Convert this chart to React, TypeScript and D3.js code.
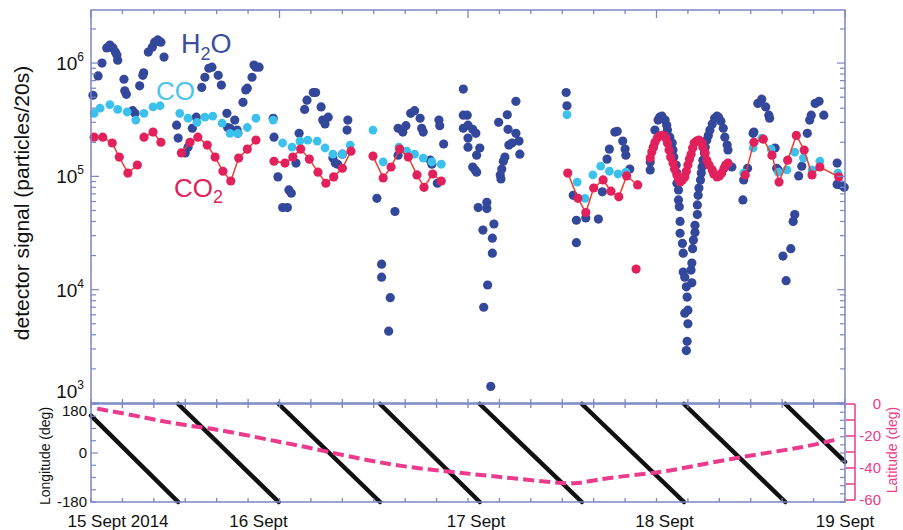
import React from 'react';
import * as d3 from 'd3';

// time is in hours since 15 Sept 2014 00:00, signal in particles/20s
const dayLabels = ['15 Sept 2014', '16 Sept', '17 Sept', '18 Sept', '19 Sept'];
const dayHours = [0, 24, 48, 72, 96];
const decades = [1e3, 1e4, 1e5, 1e6];
const lonLabels = [180, 0, -180];
const latLabels = [0, -20, -40, -60];

const h2o: [number, number][] = [
  [0.25, 5.2e5], [0.9, 7.7e5], [1.4, 1.0e6], [2.0, 1.36e6], [2.4, 1.44e6], [2.8, 1.36e6], [3.1, 1.25e6],
  [3.3, 1.18e6], [3.4, 1.06e6], [4.2, 7.2e5], [4.3, 5.7e5], [4.5, 5.3e5], [5.3, 3.8e5], [5.6, 3.6e5],
  [6.2, 6.3e5], [6.6, 7.8e5], [6.7, 8.2e5], [7.3, 1.25e6], [7.8, 1.38e6], [8.1, 1.53e6], [8.5, 1.6e6],
  [8.9, 1.53e6], [9.3, 1.13e6], [10.9, 2.83e5], [11.1, 2.18e5], [12.0, 1.61e5], [12.35, 1.81e5],
  [12.9, 2.66e5], [13.4, 3.33e5], [14.1, 6.1e5], [14.5, 7.5e5], [15.0, 9.0e5], [15.4, 9.2e5],
  [16.2, 7.8e5], [16.6, 6.4e5], [17.3, 3.6e5], [17.4, 2.7e5], [17.7, 2.66e5], [18.3, 3.14e5],
  [18.6, 2.56e5], [18.7, 2.4e5], [19.35, 4.5e5], [19.7, 5.8e5], [19.9, 6.0e5], [20.5, 7.5e5],
  [20.75, 9.6e5], [21.0, 9.2e5], [21.4, 9.2e5], [23.2, 3.26e5], [23.3, 2.22e5], [23.8, 9.9e4],
  [24.4, 5.3e4], [25.0, 5.3e4], [25.2, 7.6e4], [25.5, 7.1e4], [26.1, 1.31e5], [26.5, 2.4e5],
  [27.2, 3.9e5], [27.5, 4.7e5], [28.3, 5.5e5], [28.6, 5.5e5], [29.3, 4.1e5], [29.5, 3.14e5],
  [29.8, 2.9e5], [30.2, 3.33e5], [30.8, 1.45e5], [31.1, 1.31e5], [31.4, 1.28e5], [32.0, 1.57e5],
  [32.6, 2.56e5], [32.7, 3.14e5], [36.4, 6.4e4], [37.0, 1.68e4], [37.0, 1.29e4], [37.9, 4.3e3],
  [38.1, 8.5e3], [38.7, 4.9e4], [39.1, 2.66e5], [39.1, 1.54e5], [39.7, 2.46e5], [40.1, 2.8e5],
  [40.7, 3.6e5], [41.2, 3.8e5], [41.9, 3.26e5], [42.1, 2.66e5], [42.3, 2.46e5], [43.2, 1.39e5],
  [43.4, 1.28e5], [44.1, 8.7e4], [44.3, 3.14e5], [44.4, 2.8e5], [44.9, 1.93e5],
  [47.4, 5.9e5], [47.4, 3.47e5], [47.9, 3.47e5], [47.4, 2.66e5], [48.0, 2.83e5], [48.6, 2.6e5],
  [49.0, 2.4e5], [48.0, 2.18e5], [48.0, 1.81e5], [49.5, 1.78e5], [49.1, 1.54e5], [48.6, 1.21e5],
  [48.9, 1.14e5], [49.1, 1.09e5], [49.3, 5.3e4], [50.4, 5.9e4], [50.4, 5.2e4], [49.9, 3.36e4],
  [51.3, 3.8e4], [51.1, 2.85e4], [51.1, 2.1e4], [50.5, 1.1e4], [50.0, 7.0e3], [50.9, 1.4e3],
  [51.9, 3.0e5], [53.0, 3.5e5], [54.1, 4.6e5], [53.1, 2.6e5], [54.1, 2.4e5], [54.5, 2.05e5],
  [53.6, 1.97e5], [53.2, 1.89e5], [54.6, 1.57e5], [52.7, 1.48e5], [52.5, 1.36e5], [52.3, 1.16e5],
  [52.1, 1.03e5], [52.2, 9.5e4], [60.5, 5.5e5], [60.6, 4.2e5], [61.4, 6.8e4], [61.8, 4.1e4],
  [61.8, 2.6e4], [63.0, 4.3e4], [64.6, 4.2e4], [65.1, 7.3e4], [65.7, 1.42e5], [66.0, 1.74e5],
  [66.7, 2.46e5], [67.0, 2.5e5], [67.7, 2.05e5], [68.0, 1.74e5], [68.1, 1.54e5], [68.6, 1.16e5],
  [71.2, 1.14e5], [71.2, 1.34e5], [71.6, 1.81e5], [71.8, 2.56e5], [72.2, 3.14e5], [72.4, 3.33e5],
  [72.7, 3.4e5], [73.1, 3.14e5], [73.3, 2.83e5], [73.4, 2.56e5], [73.7, 2.22e5], [74.0, 1.97e5],
  [74.1, 1.71e5], [74.2, 1.48e5], [74.5, 1.26e5], [74.6, 1.07e5], [74.6, 8.7e4], [74.8, 7.6e4],
  [74.8, 6.2e4], [74.9, 5.4e4], [75.0, 4.0e4], [75.0, 3.15e4], [75.3, 2.56e4], [75.4, 2.1e4],
  [75.4, 1.43e4], [75.6, 1.29e4], [75.8, 1.06e4], [75.9, 8.6e3], [76.0, 6.6e3], [75.6, 6.2e3],
  [76.0, 5.0e3], [75.9, 3.5e3], [75.8, 2.9e3], [76.5, 1.15e4], [76.4, 1.49e4], [76.5, 1.72e4],
  [76.6, 2.3e4], [76.7, 2.74e4], [76.9, 3.2e4], [76.9, 3.7e4], [77.2, 4.6e4], [77.2, 5.6e4],
  [77.3, 6.8e4], [77.4, 7.9e4], [77.6, 9.3e4], [77.7, 1.07e5], [77.8, 1.21e5], [77.9, 1.39e5],
  [78.1, 1.61e5], [78.2, 1.81e5], [78.4, 2.09e5], [78.6, 2.3e5], [78.8, 2.56e5], [79.1, 2.9e5],
  [79.4, 3.26e5], [79.7, 3.4e5], [79.9, 3.33e5], [80.2, 3.07e5], [80.5, 2.66e5], [80.7, 2.22e5],
  [81.0, 1.89e5], [81.1, 1.71e5], [81.6, 1.21e5], [83.0, 6.2e4], [83.1, 9.3e4], [83.6, 1.18e5],
  [84.3, 2.4e5], [84.4, 2.46e5], [84.9, 4.4e5], [85.4, 4.8e5], [85.9, 4.1e5], [86.3, 3.47e5],
  [86.4, 3.26e5], [87.1, 1.78e5], [87.3, 1.18e5], [87.5, 1.14e5], [88.1, 1.98e4], [88.5, 1.2e4],
  [89.1, 2.3e4], [89.4, 4.0e4], [89.6, 4.6e4], [90.1, 1.01e5], [90.5, 1.23e5], [91.2, 2.4e5],
  [91.5, 3.14e5], [91.7, 3.47e5], [92.2, 4.4e5], [92.7, 4.6e5], [93.3, 3.47e5], [95.0, 1.31e5],
  [95.0, 8.5e4], [95.5, 8.4e4], [95.9, 8.0e4],
];

const co: [number, number][] = [
  [0.4, 3.6e5], [1.15, 4.0e5], [2.4, 4.3e5], [3.4, 3.9e5], [4.6, 3.7e5], [5.7, 3.14e5], [6.75, 3.6e5],
  [7.9, 4.1e5], [8.8, 4.2e5], [11.3, 3.6e5], [12.35, 3.26e5], [13.5, 3.0e5], [14.5, 3.33e5],
  [15.5, 3.4e5], [16.7, 2.95e5], [17.7, 2.4e5], [18.7, 2.4e5], [19.9, 2.7e5], [21.0, 3.26e5],
  [23.2, 3.14e5], [24.4, 1.97e5], [25.6, 1.81e5], [26.6, 2.05e5], [27.6, 2.09e5], [28.8, 2.05e5],
  [29.8, 1.78e5], [30.8, 1.57e5], [32.0, 1.57e5], [33.0, 1.89e5], [35.9, 2.56e5], [37.2, 1.34e5],
  [39.2, 1.81e5], [40.2, 1.67e5], [41.2, 1.57e5], [42.3, 1.45e5], [43.4, 1.34e5], [44.6, 1.28e5],
  [60.6, 3.5e5], [61.9, 8.9e4], [62.9, 6.4e4], [63.9, 1.03e5], [64.9, 1.23e5], [66.0, 1.11e5],
  [67.1, 1.05e5], [68.1, 1.09e5], [81.1, 1.31e5], [83.1, 1.07e5], [84.3, 1.78e5], [85.4, 2.18e5],
  [86.6, 1.74e5], [87.5, 1.09e5], [88.6, 1.14e5], [89.6, 1.64e5], [90.7, 1.45e5], [91.8, 1.14e5],
  [92.8, 1.36e5], [95.1, 1.07e5],
];

// CO2 runs, each run joined by a line
const co2Runs: [number, number][][] = [
  [[0.4, 2.22e5], [1.5, 2.22e5], [2.7, 1.97e5], [3.6, 1.48e5], [4.7, 1.07e5], [5.9, 1.26e5]],
  [[6.75, 2.22e5], [7.9, 2.46e5], [8.9, 2.0e5]],
  [[11.5, 1.61e5], [12.6, 2.0e5], [13.6, 2.22e5], [14.8, 1.89e5], [15.8, 1.48e5], [16.8, 1.11e5],
    [17.8, 9.1e4], [18.8, 1.45e5], [19.9, 1.74e5], [21.0, 2.09e5]],
  [[23.3, 1.36e5], [24.7, 1.31e5], [25.7, 1.48e5], [26.7, 1.74e5], [27.8, 1.42e5], [28.9, 1.09e5],
    [29.9, 8.7e4], [30.9, 9.9e4], [32.0, 1.18e5], [33.1, 1.67e5]],
  [[35.9, 1.51e5], [37.2, 9.7e4], [38.2, 1.21e5], [39.3, 1.74e5], [40.4, 1.48e5], [41.5, 1.03e5],
    [42.4, 8.0e4], [43.5, 1.05e5], [44.6, 9.1e4]],
  [[60.7, 1.07e5], [62.0, 6.4e4], [63.0, 4.8e4], [64.0, 7.9e4], [65.2, 9.3e4], [66.2, 7.4e4],
    [67.2, 6.6e4], [68.2, 1.01e5], [69.6, 8.4e4]],
  [[69.4, 1.52e4]],
  [[71.2, 1.45e5], [71.4, 1.64e5], [71.6, 1.81e5], [71.8, 2.0e5], [72.1, 2.18e5], [72.4, 2.27e5],
    [72.7, 2.3e5], [73.0, 2.27e5], [73.2, 2.18e5], [73.4, 1.97e5], [73.6, 1.71e5], [73.8, 1.48e5],
    [74.1, 1.31e5], [74.3, 1.16e5], [74.6, 1.03e5], [74.8, 9.5e4], [75.0, 8.9e4], [75.3, 9.3e4],
    [75.6, 9.9e4], [75.8, 1.11e5], [76.0, 1.26e5], [76.2, 1.42e5], [76.4, 1.57e5], [76.6, 1.78e5],
    [76.8, 1.97e5], [77.1, 2.05e5], [77.4, 2.09e5], [77.8, 1.97e5], [77.9, 1.81e5], [78.2, 1.61e5],
    [78.4, 1.39e5], [78.7, 1.26e5], [79.1, 1.14e5], [79.3, 1.05e5], [79.7, 9.9e4], [80.0, 1.01e5],
    [80.3, 1.07e5], [80.6, 1.18e5], [80.8, 1.26e5], [81.1, 1.31e5]],
  [[83.3, 1.03e5], [84.4, 2.0e5], [85.6, 2.13e5], [86.7, 1.54e5], [87.6, 8.9e4], [88.7, 1.39e5],
    [89.8, 2.3e5], [90.8, 1.71e5], [91.8, 1.03e5], [92.8, 1.21e5], [95.2, 9.9e4]],
];

// sub-spacecraft longitude: hours at which it wraps from -180 to 180
const lonWraps = [11.1, 23.9, 36.8, 49.5, 62.5, 75.5, 88.4];
const lonFirst = 137;
const lonLast = -33;

// sub-spacecraft latitude [hours, deg]
const latitude: [number, number][] = [
  [0.8, -3], [5.3, -6.9], [8.8, -10.5], [11.7, -13], [15.5, -15.5], [19.4, -19],
  [23.7, -23.5], [26.6, -26], [33.0, -33], [39.3, -39], [47.0, -43], [52.1, -45.6], [59.7, -49.4],
  [62.0, -50], [64.8, -46.5], [72.4, -43], [77.5, -38], [85.2, -31], [90.3, -27.5], [95.1, -22],
];

const AXIS = '#7c86c3';
const FONT = '"Liberation Sans", Arial, sans-serif';

export default function App() {
  const left = 91;
  const right = 845;
  const x = d3.scaleLinear().domain([0, 96]).range([left, right]);
  const y = d3.scaleLog().domain([1e3, 2.94e6]).range([403, 10]);
  const yLon = d3.scaleLinear().domain([-180, 180]).range([502, 404]);
  const yLat = d3.scaleLinear().domain([-60, 0]).range([500, 404]);

  const sigLine = d3.line<[number, number]>().x(d => x(d[0])).y(d => y(d[1]));
  const lonLine = d3.line<[number, number]>().x(d => x(d[0])).y(d => yLon(d[1]));
  const latLine = d3.line<[number, number]>().x(d => x(d[0])).y(d => yLat(d[1])).curve(d3.curveBasis);

  const lonSegs: [number, number][][] = [];
  const starts = [0, ...lonWraps];
  starts.forEach((t, i) => {
    const a: [number, number] = [t, i === 0 ? lonFirst : 180];
    const b: [number, number] = i < lonWraps.length ? [lonWraps[i], -180] : [96, lonLast];
    lonSegs.push([a, b]);
  });

  const timeTicks = d3.range(0, 97, 4);
  const logTicks = y.ticks();
  const lonTicks = d3.range(-180, 181, 45);
  const lonRightTicks = d3.range(-180, 181, 30);
  const latTicks = d3.range(-60, 1, 10);
  const labelNudge = [27, -21, 8, 8, 0];

  return (
    <svg width={903} height={530} style={{ position: 'absolute', left: 0, top: 0 }} fontFamily={FONT}>
      <rect width={903} height={530} fill="#fff" />

      {/* bottom panel: longitude and latitude */}
      {lonSegs.map((s, i) => (
        <path key={'lon' + i} d={lonLine(s) || ''} stroke="#111" strokeWidth={4.5} fill="none" strokeLinecap="round" />
      ))}
      <path d={latLine(latitude) || ''} stroke="#ec3a8c" strokeWidth={4} strokeDasharray="11 5" fill="none" />

      {/* main panel markers */}
      {h2o.map((d, i) => (
        <circle key={'h' + i} cx={x(d[0])} cy={y(d[1])} r={4.6} fill="#33479b" />
      ))}
      {co.map((d, i) => (
        <circle key={'c' + i} cx={x(d[0])} cy={y(d[1])} r={4.4} fill="#3cc1ec" />
      ))}
      {co2Runs.map((run, i) => (
        <path key={'r' + i} d={sigLine(run) || ''} stroke="#ef3e2e" strokeWidth={1.5} fill="none" />
      ))}
      {co2Runs.flat().map((d, i) => (
        <circle key={'d' + i} cx={x(d[0])} cy={y(d[1])} r={4.6} fill="#e2215c" />
      ))}

      {/* frames */}
      <rect x={left} y={10} width={right - left} height={393} fill="none" stroke={AXIS} strokeWidth={1.5} />
      <rect x={left} y={404} width={right - left} height={98} fill="none" stroke={AXIS} strokeWidth={1.5} />

      {timeTicks.map(t => {
        const big = t % 24 === 0 ? 8 : 4;
        return (
          <g key={'t' + t} stroke={AXIS} strokeWidth={1.3}>
            <line x1={x(t)} x2={x(t)} y1={10} y2={10 + big} />
            <line x1={x(t)} x2={x(t)} y1={403} y2={403 - 4} />
            <line x1={x(t)} x2={x(t)} y1={404} y2={404 + 4} />
            <line x1={x(t)} x2={x(t)} y1={502} y2={502 - 4} />
          </g>
        );
      })}

      {logTicks.map(v => {
        const major = decades.includes(v);
        const len = major ? 8 : 5;
        return (
          <g key={'y' + v} stroke={AXIS} strokeWidth={1.2}>
            <line x1={left} x2={left + len} y1={y(v)} y2={y(v)} />
            <line x1={right} x2={right - len} y1={y(v)} y2={y(v)} />
          </g>
        );
      })}
      {decades.map(v => (
        <text key={'yl' + v} x={84} y={v === 1e3 ? y(v) - 5 : y(v) + 7} textAnchor="end" fontSize={19} fill="#111">
          <tspan>10</tspan>
          <tspan dy={-9} fontSize={12}>{Math.round(Math.log10(v))}</tspan>
        </text>
      ))}

      {lonTicks.map(v => (
        <line key={'lt' + v} x1={left} x2={left + (v === 0 ? 7 : 5)} y1={yLon(v)} y2={yLon(v)} stroke={AXIS} strokeWidth={1.2} />
      ))}
      {lonRightTicks.map(v => (
        <line key={'lr' + v} x1={right} x2={right - 5} y1={yLon(v)} y2={yLon(v)} stroke={AXIS} strokeWidth={1.2} />
      ))}
      {lonLabels.map(v => (
        <text key={'ll' + v} x={87} y={v === 180 ? yLon(v) + 12 : yLon(v) + 5} textAnchor="end" fontSize={15} fill="#111">
          {v}
        </text>
      ))}

      {/* latitude axis */}
      <line x1={855} x2={855} y1={yLat(0)} y2={yLat(-60)} stroke="#ec3a8c" strokeWidth={1.5} />
      {latTicks.map(v => (
        <line key={'at' + v} x1={846} x2={855} y1={yLat(v)} y2={yLat(v)} stroke="#ec3a8c" strokeWidth={1.5} />
      ))}
      {latLabels.map(v => (
        <text key={'al' + v} x={881} y={yLat(v) + 5} textAnchor="end" fontSize={15} fill="#ec3a8c">
          {v}
        </text>
      ))}

      {dayHours.map((h, i) => (
        <text key={'dl' + h} x={x(h) + labelNudge[i]} y={527} textAnchor="middle" fontSize={17} fill="#111">
          {dayLabels[i]}
        </text>
      ))}

      <text transform="translate(29,203) rotate(-90)" textAnchor="middle" fontSize={21} fill="#111">
        detector signal (particles/20s)
      </text>
      <text transform="translate(50,456) rotate(-90)" textAnchor="middle" fontSize={14} fill="#111">
        Longitude (deg)
      </text>
      <text transform="translate(897,450) rotate(-90)" textAnchor="middle" fontSize={14} fill="#ec3a8c">
        Latitude (deg)
      </text>

      {/* series names */}
      <text x={181} y={53} fontSize={27} fill="#3a4ea0">
        H<tspan dy={7} fontSize={18}>2</tspan><tspan dy={-7}>O</tspan>
      </text>
      <text x={156} y={100} fontSize={26} fill="#4cc4ec">CO</text>
      <text x={174} y={197} fontSize={26} fill="#e0245c">
        CO<tspan dy={6} fontSize={18}>2</tspan>
      </text>
    </svg>
  );
}
